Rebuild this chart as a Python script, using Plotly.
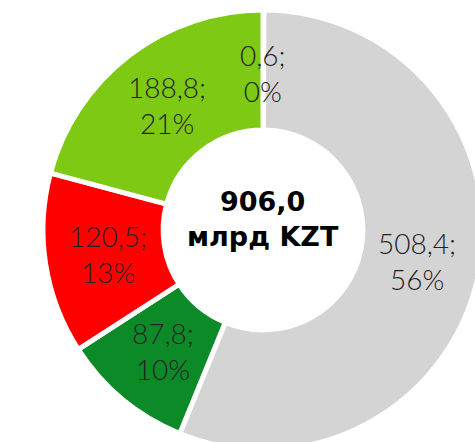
import numpy as np
import plotly.graph_objects as go

# Data (clockwise from 12 o'clock)
labels = ["Прочее", "Серый", "Тёмно-зелёный", "Красный", "Зелёный"]
values = [0.6, 508.4, 87.8, 120.5, 188.8]
value_text = ["0,6", "508,4", "87,8", "120,5", "188,8"]
pct_text = ["0%", "56%", "10%", "13%", "21%"]
colors = ["#d4d4d4", "#d4d4d4", "#0b8a27", "#ff0000", "#7ec914"]
total_text = "906,0"
unit_text = "млрд KZT"

# figure slightly larger than the 475x442 window: the donut is cropped at right/bottom
W, H = 485, 452
dom_x = [43 / W, 483 / W]
dom_y = [1 - 450 / H, 1 - 10 / H]

fig = go.Figure(go.Pie(
    labels=labels,
    values=values,
    sort=False,
    direction="clockwise",
    rotation=0,
    hole=0.454,
    marker=dict(colors=colors, line=dict(color="white", width=5)),
    textinfo="none",
    hoverinfo="label+value+percent",
    domain=dict(x=dom_x, y=dom_y),
    showlegend=False,
))

# pie geometry in pixels (derived from domain)
cx = (dom_x[0] + dom_x[1]) / 2 * W
cy = (1 - (dom_y[0] + dom_y[1]) / 2) * H
R = min((dom_x[1] - dom_x[0]) * W, (dom_y[1] - dom_y[0]) * H) / 2
r_lab = R * 0.714

vals = np.array(values)
cum = np.cumsum(vals)
mid = (cum - vals / 2) / vals.sum() * 2 * np.pi

label_font = dict(family="Lato", size=28, color="#222222", weight=300)
annotations = []
for a, vt, pt in zip(mid, value_text, pct_text):
    px = cx + r_lab * np.sin(a)
    py = cy - r_lab * np.cos(a)
    annotations.append(dict(
        x=px / W, y=1 - py / H, xref="paper", yref="paper",
        text=f"{vt};<br>{pt}", showarrow=False, font=label_font,
        xanchor="center", yanchor="middle", align="center",
    ))

annotations.append(dict(
    x=cx / W, y=1 - (cy - 11) / H, xref="paper", yref="paper",
    text=f"<b>{total_text}</b><br><b>{unit_text}</b>", showarrow=False,
    font=dict(family="DejaVu Sans", size=27, color="#000000"),
    xanchor="center", yanchor="middle", align="center",
))

fig.update_layout(
    width=W, height=H,
    margin=dict(l=0, r=0, t=0, b=0),
    paper_bgcolor="white", plot_bgcolor="white",
    annotations=annotations,
)

fig.write_html(
    "out.html",
    config={"displayModeBar": False},
    post_script=(
        "document.documentElement.style.overflow='hidden';"
        "document.body.style.margin='0';"
        "document.body.style.overflow='hidden';"
    ),
)
